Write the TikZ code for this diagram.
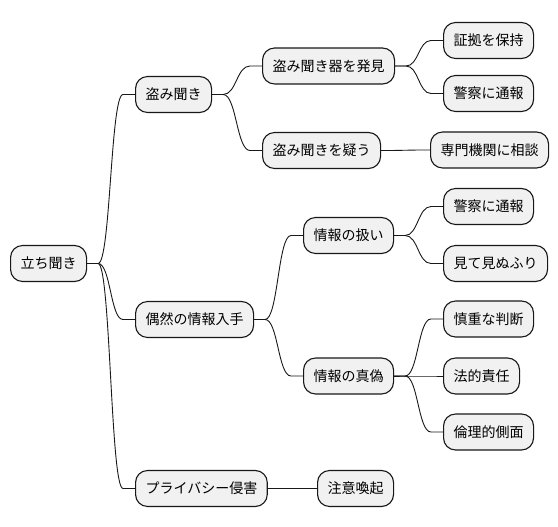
\documentclass[tikz,border=0pt]{standalone}
\usepackage{fontspec}
\setmainfont{Noto Sans CJK JP}
\usetikzlibrary{calc}
\definecolor{nodefill}{HTML}{F1F1F1}
\definecolor{nodeline}{HTML}{181818}
\tikzset{
  mm/.style={draw=nodeline, fill=nodefill, line width=1.1pt, rounded corners=12pt,
    minimum height=36pt, inner xsep=10pt, inner ysep=0pt, anchor=west,
    font=\fontsize{14pt}{16pt}\selectfont, text=black},
  link/.style={draw=nodeline, line width=0.9pt}
}
\newcommand\mmlink[2]{%
  \path (#1.east) ++(11,0) coordinate (lp);
  \path (#2.west) ++(-12,0) coordinate (lq);
  \path ($(lp)!.5!(lq)$) coordinate (lm);
  \draw[link] (#1.east) -- (lp) .. controls (lm |- lp) and (lm |- lq) .. (lq) -- (#2.west);
}
\begin{document}
\begin{tikzpicture}[x=1pt,y=1pt]
\useasboundingbox (0,0) rectangle (558,-527);
\node[mm] (root) at (10,-263.5) {立ち聞き};
\node[mm] (a) at (135,-94.5) {盗み聞き};
\node[mm] (b) at (135,-319.5) {偶然の情報入手};
\node[mm] (c) at (135,-488.5) {プライバシー侵害};
\node[mm] (a1) at (262,-66) {盗み聞き器を発見};
\node[mm] (a2) at (262,-150.5) {盗み聞きを疑う};
\node[mm] (b1) at (303,-235.5) {情報の扱い};
\node[mm] (b2) at (303,-376) {情報の真偽};
\node[mm] (c1) at (317,-488.5) {注意喚起};
\node[mm] (a11) at (443,-40.5) {証拠を保持};
\node[mm] (a12) at (443,-93.5) {警察に通報};
\node[mm] (a21) at (430,-150) {専門機関に相談};
\node[mm] (b11) at (443,-206.5) {警察に通報};
\node[mm] (b12) at (443,-263.5) {見て見ぬふり};
\node[mm] (b21) at (443,-319) {慎重な判断};
\node[mm] (b22) at (443,-376) {法的責任};
\node[mm] (b23) at (443,-432) {倫理的側面};
\mmlink{root}{a}
\mmlink{root}{b}
\mmlink{root}{c}
\mmlink{a}{a1}
\mmlink{a}{a2}
\mmlink{b}{b1}
\mmlink{b}{b2}
\mmlink{c}{c1}
\mmlink{a1}{a11}
\mmlink{a1}{a12}
\mmlink{a2}{a21}
\mmlink{b1}{b11}
\mmlink{b1}{b12}
\mmlink{b2}{b21}
\mmlink{b2}{b22}
\mmlink{b2}{b23}
\end{tikzpicture}
\end{document}
